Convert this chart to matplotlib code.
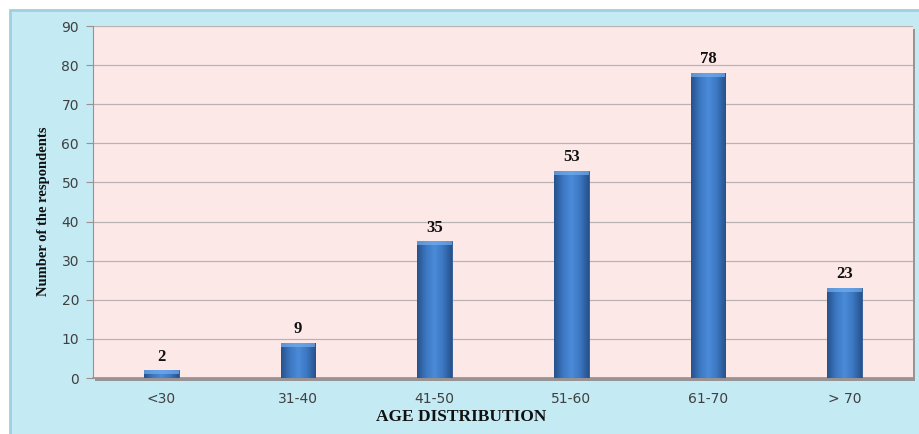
import numpy as np
import matplotlib
matplotlib.use("Agg")
import matplotlib.pyplot as plt
from matplotlib.patches import Rectangle
from matplotlib.colors import LinearSegmentedColormap

# Age groups and respondent counts
categories = ["<30", "31-40", "41-50", "51-60", "61-70", "> 70"]
counts = [2, 9, 35, 53, 78, 23]
y_ticks = [0, 10, 20, 30, 40, 50, 60, 70, 80, 90]

W, H = 920, 434
fig = plt.figure(figsize=(W / 100, H / 100), dpi=100)
fig.patch.set_facecolor("white")

# Light blue chart panel (runs off the right and bottom edges)
panel = Rectangle((10 / W, -0.05), (W + 20) / W, (H - 10) / H + 0.05,
                  transform=fig.transFigure, facecolor="#c4eaf4",
                  edgecolor="#9fd0e0", linewidth=2, zorder=0)
fig.patches.append(panel)

left, right, top, bottom = 93, 913, 26, 378
ax_rect = [left / W, (H - bottom) / H, (right - left) / W, (bottom - top) / H]

# Drop shadow behind the plot area
shadow = Rectangle((ax_rect[0] + 2 / W, ax_rect[1] - 3 / H), ax_rect[2], ax_rect[3],
                   transform=fig.transFigure, facecolor="#8a8080", edgecolor="none",
                   zorder=0.5, alpha=0.8)
fig.patches.append(shadow)

ax = fig.add_axes(ax_rect)
ax.set_facecolor("#fde8e8")
ax.set_zorder(1)

x = np.arange(len(categories))
bar_w = 0.256
bars = ax.bar(x, counts, width=bar_w, color="#3d78c2", edgecolor="#2a5690",
              linewidth=0.6, zorder=3)

# Horizontal shading inside each bar
cmap = LinearSegmentedColormap.from_list(
    "barshade", ["#26528c", "#3c77c2", "#4b8bd8", "#3c77c2", "#26528c"])
grad = np.linspace(0, 1, 64).reshape(1, -1)
for b in bars:
    x0, w, h = b.get_x(), b.get_width(), b.get_height()
    im = ax.imshow(grad, cmap=cmap, aspect="auto", extent=[x0, x0 + w, 0, h],
                   zorder=3.5, interpolation="bicubic")
    im.set_clip_path(b)
    # light bevel along the top edge
    bev = min(1.0, h * 0.5)
    ax.add_patch(Rectangle((x0, h - bev), w, bev, facecolor="#74aef0",
                           edgecolor="none", alpha=0.7, zorder=3.6))

for xi, v in zip(x, counts):
    ax.annotate(str(v), (xi, v), xytext=(0, 4), textcoords="offset points",
                ha="center", va="bottom", fontsize=12, fontweight="bold",
                family="Liberation Serif", color="#111111", zorder=5)

ax.set_xlim(-0.5, len(categories) - 0.5)
ax.set_ylim(0, 90)
ax.set_yticks(y_ticks)
ax.set_xticks(x)
ax.set_xticklabels(categories)
ax.yaxis.grid(True, color="#bab2b2", linewidth=0.9, zorder=1)
ax.set_axisbelow(True)

for s in ["top", "right"]:
    ax.spines[s].set_visible(False)
ax.spines["left"].set_color("#9a9090")
ax.spines["bottom"].set_color("#9a9090")
ax.spines["bottom"].set_linewidth(1.2)

ax.tick_params(axis="y", length=5, color="#9a9090", labelsize=10,
               labelcolor="#404040", pad=5)
ax.tick_params(axis="x", length=0, labelsize=10, labelcolor="#404040", pad=10)
for lab in ax.get_xticklabels() + ax.get_yticklabels():
    lab.set_family("DejaVu Sans")

ax.set_xlabel("AGE DISTRIBUTION", fontsize=12.5, fontweight="bold",
              family="Liberation Serif", color="#111111")
ax.xaxis.set_label_coords((461 - left) / (right - left), -(417 - bottom) / (bottom - top))
ax.xaxis.label.set_va("center")
ax.set_ylabel("Number of the respondents", fontsize=10.5, fontweight="bold",
              family="Liberation Serif", color="#111111")
ax.yaxis.set_label_coords(-(left - 50) / (right - left), (bottom - 211) / (bottom - top))

fig.savefig("out.png", dpi=100, facecolor=fig.get_facecolor())
